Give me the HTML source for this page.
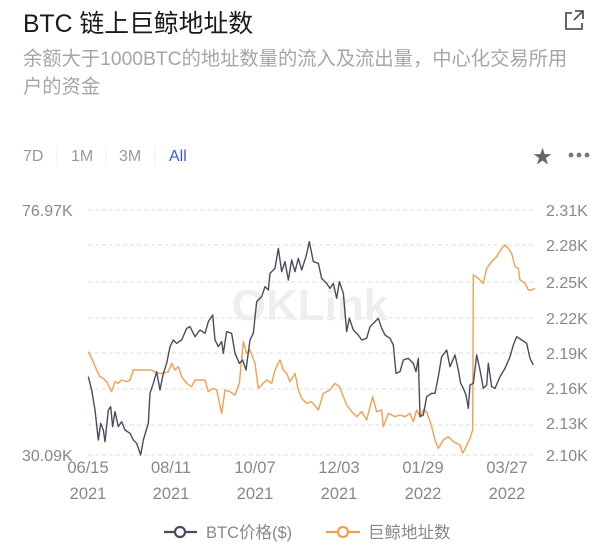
<!DOCTYPE html>
<html><head><meta charset="utf-8"><style>
body{margin:0;background:#fff;width:612px;height:555px;overflow:hidden;font-family:"Liberation Sans","Noto Sans CJK SC",sans-serif}
</style></head><body>
<svg width="612" height="555" xmlns="http://www.w3.org/2000/svg" font-family="Liberation Sans, Noto Sans CJK SC, sans-serif">
<text x="23" y="32" font-size="24.8" fill="#1a1a1a">BTC 链上巨鲸地址数</text>
<g stroke="#555" stroke-width="1.8" fill="none"><path d="M572 13 h-6 v16 h16 v-6"/><path d="M575 11 h8 v8 M583 11 l-9 9"/></g>
<text x="23" y="65" font-size="19.3" fill="#a6a6a6">余额大于1000BTC的地址数量的流入及流出量，中心化交易所用</text>
<text x="23" y="93" font-size="19.3" fill="#a6a6a6">户的资金</text>
<g font-size="16" fill="#999"><text x="23" y="161">7D</text><text x="71" y="161">1M</text><text x="119" y="161">3M</text><text x="169" y="161" fill="#3a5bd9">All</text></g>
<g stroke="#eee"><line x1="57" y1="146" x2="57" y2="166"/><line x1="106" y1="146" x2="106" y2="166"/><line x1="155" y1="146" x2="155" y2="166"/></g>
<text x="533" y="163" font-size="19" fill="#666">★</text>
<g fill="#777"><circle cx="571" cy="155" r="2.4"/><circle cx="579" cy="155" r="2.4"/><circle cx="587" cy="155" r="2.4"/></g>
<g stroke="#ddd" stroke-dasharray="4,3"><line x1="88" y1="210" x2="535" y2="210"/><line x1="88" y1="245" x2="535" y2="245"/><line x1="88" y1="282" x2="535" y2="282"/><line x1="88" y1="318" x2="535" y2="318"/><line x1="88" y1="353" x2="535" y2="353"/><line x1="88" y1="389" x2="535" y2="389"/><line x1="88" y1="425" x2="535" y2="425"/><line x1="88" y1="455" x2="535" y2="455"/></g>
<g font-size="16" fill="#888"><text x="22" y="216">76.97K</text><text x="22" y="461">30.09K</text>
<text x="546" y="216">2.31K</text><text x="546" y="251">2.28K</text><text x="546" y="288">2.25K</text><text x="546" y="324">2.22K</text><text x="546" y="359">2.19K</text><text x="546" y="394">2.16K</text><text x="546" y="429">2.13K</text><text x="546" y="461">2.10K</text></g>
<text x="310" y="320" font-size="44" font-weight="bold" fill="#eee" text-anchor="middle">OKLink</text>
<g transform="translate(80,230) scale(0.33333)" fill="none" stroke-width="1.4" stroke-linejoin="round">
<polyline vector-effect="non-scaling-stroke" stroke="#f0a050" points="25,365 35,385 50,420 60,440 70,445 80,455 95,485 105,455 115,460 125,450 140,455 150,450 160,420 175,420 215,420 230,430 250,430 265,425 275,400 285,420 295,410 305,440 320,460 335,470 345,450 360,450 375,450 385,485 400,475 410,480 425,550 435,480 450,485 465,495 478,460 490,335 500,370 510,360 525,400 535,475 545,465 560,450 575,460 585,420 600,390 610,420 620,430 630,455 645,430 655,480 665,505 680,520 695,515 715,540 730,490 750,480 765,460 778,470 790,500 800,525 815,545 830,560 845,545 860,570 878,500 890,545 905,540 910,590 925,550 945,560 960,555 975,560 990,550 1000,575 1010,540 1020,560 1030,540 1040,545 1055,590 1065,630 1075,655 1090,630 1105,620 1120,635 1140,645 1148,670 1158,650 1170,625 1178,600 1180,135 1195,145 1210,160 1220,115 1235,95 1250,80 1265,55 1275,45 1285,55 1295,70 1305,110 1315,115 1320,150 1335,160 1345,180 1355,180 1365,175"/>
<polyline vector-effect="non-scaling-stroke" stroke="#4a4c5e" points="25,440 35,480 45,540 55,630 62,580 70,600 75,635 85,540 92,530 98,590 105,545 115,590 125,575 135,600 150,610 160,630 170,640 182,675 190,630 205,580 210,490 220,460 230,425 240,480 250,430 260,400 270,350 280,330 290,340 305,330 320,295 330,290 345,320 360,300 375,310 385,275 398,255 405,330 415,350 425,335 430,370 440,305 455,310 465,370 478,400 488,390 498,420 510,330 520,310 530,215 545,200 555,170 565,180 570,130 585,115 595,55 605,125 615,95 625,150 635,90 645,125 655,85 665,120 678,80 688,35 700,95 715,100 725,145 740,160 750,175 760,160 770,205 778,155 790,190 800,305 808,265 820,300 835,315 845,330 860,325 870,290 880,280 895,265 905,295 915,315 930,325 940,345 948,430 960,425 970,390 985,385 1000,400 1008,425 1015,385 1020,560 1030,555 1040,500 1055,490 1065,490 1075,440 1085,380 1100,360 1110,410 1125,375 1135,420 1142,460 1150,475 1158,495 1165,535 1170,465 1180,460 1190,375 1200,420 1210,475 1220,465 1225,400 1235,470 1245,475 1260,440 1275,415 1290,380 1300,345 1310,320 1325,330 1340,340 1350,385 1360,405"/>
</g>
<g font-size="16.5" fill="#888" text-anchor="middle">
<text x="88" y="473">06/15</text><text x="88" y="499">2021</text>
<text x="171" y="473">08/11</text><text x="171" y="499">2021</text>
<text x="255" y="473">10/07</text><text x="255" y="499">2021</text>
<text x="339" y="473">12/03</text><text x="339" y="499">2021</text>
<text x="423" y="473">01/29</text><text x="423" y="499">2022</text>
<text x="507" y="473">03/27</text><text x="507" y="499">2022</text></g>
<g stroke-width="2.2" fill="#fff"><line x1="164" y1="532" x2="197" y2="532" stroke="#4a4c5e"/><circle cx="180" cy="532" r="5" stroke="#4a4c5e"/>
<line x1="326" y1="532" x2="360" y2="532" stroke="#f0a050"/><circle cx="343" cy="532" r="5" stroke="#f0a050"/></g>
<g font-size="16.5" fill="#888"><text x="206" y="538">BTC价格($)</text><text x="368" y="538">巨鲸地址数</text></g>
</svg>
</body></html>
